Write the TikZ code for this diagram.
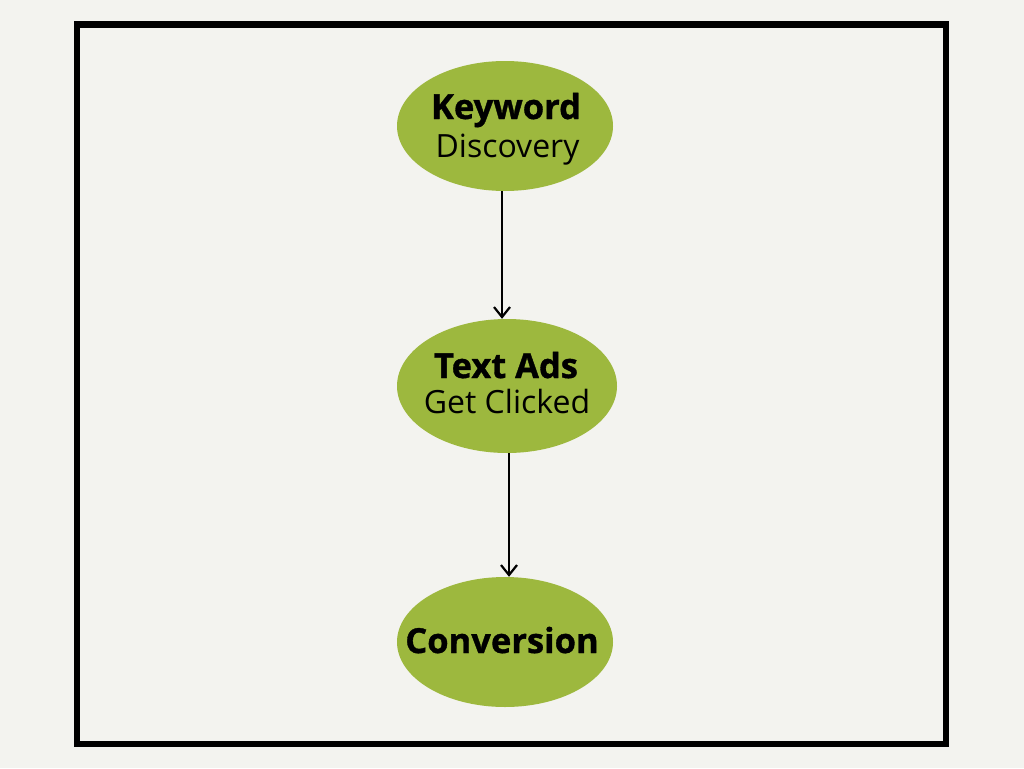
\documentclass[tikz,border=0pt]{standalone}
\usepackage{fontspec}
\setmainfont{Open Sans}[BoldFeatures={FakeBold=1}]
\usetikzlibrary{shapes.geometric,arrows.meta}
\definecolor{bg}{HTML}{F3F3EF}
\definecolor{leaf}{HTML}{9DB83E}
\tikzset{
  stage/.style={ellipse, fill=leaf, draw=none, minimum width=216pt, minimum height=130pt, inner sep=0pt},
  head/.style={anchor=base, inner sep=0pt, font=\fontsize{34.5}{40}\bfseries},
  sub/.style={anchor=base, inner sep=0pt, font=\fontsize{32}{38}\selectfont},
  flow/.style={draw=black, line width=2pt, -{Straight Barb[length=10pt,width=16pt,line width=2.2pt]}}
}
\begin{document}
\begin{tikzpicture}[x=1pt,y=-1pt]
\fill[bg] (0,0) rectangle (1024,768);
\useasboundingbox (0,0) rectangle (1024,768);
\draw[line width=6.5pt] (77,24.5) rectangle (946,744);
\node[stage] (kw) at (505,126) {};
\node[stage, minimum width=220pt, minimum height=134pt] (ta) at (507,386) {};
\node[stage] (cv) at (505,642) {};
\node[head] (kwA) at (506,119) {Keyword};
\node[sub] (kwB) at (507.5,157) {Discovery};
\node[head] (taA) at (506,378) {Text Ads};
\node[sub] (taB) at (507,413) {Get Clicked};
\node[head] (cvA) at (502,653) {Conversion};
\draw[flow] (kw.south -| 502,0) -- (ta.north -| 502,0);
\draw[flow] (ta.south -| 509,0) -- (cv.north -| 509,0);
\end{tikzpicture}
\end{document}
